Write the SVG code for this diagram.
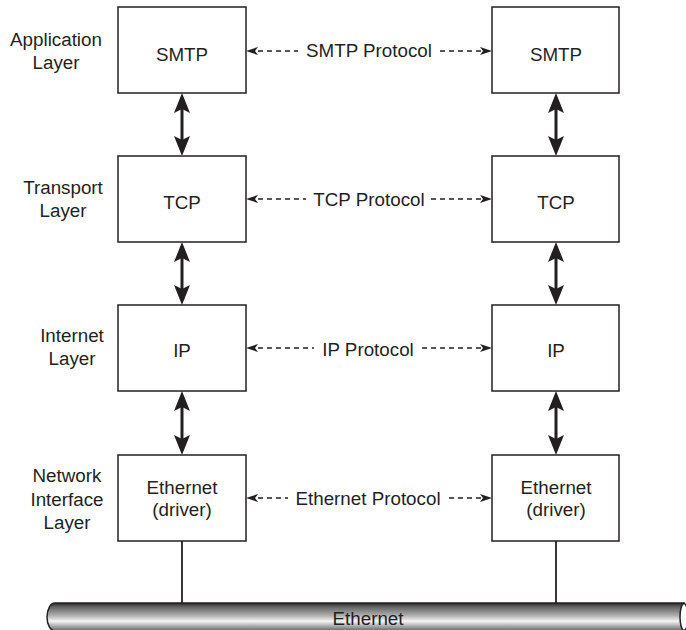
<svg xmlns="http://www.w3.org/2000/svg" width="686" height="630" viewBox="0 0 686 630">
<style>
text{font-family:"Liberation Sans",Arial,sans-serif;font-size:18.8px;fill:#231f20}
.c{text-anchor:middle}
.box{fill:#fff;stroke:#231f20;stroke-width:1.5}
.v{stroke:#231f20;stroke-width:3;fill:none}
.d{stroke:#231f20;stroke-width:1.4;stroke-dasharray:5 4;fill:none}
.tap{stroke:#231f20;stroke-width:1.8}
</style>
<defs>
<marker id="big" markerUnits="userSpaceOnUse" markerWidth="22" markerHeight="18" refX="6" refY="9" orient="auto-start-reverse" overflow="visible">
<path d="M0,1 L20,9 L0,17 L4,9 Z" fill="#231f20"/>
</marker>
<marker id="sm" markerUnits="userSpaceOnUse" markerWidth="13" markerHeight="10" refX="9" refY="5" orient="auto-start-reverse" overflow="visible">
<path d="M0,1 L12,5 L0,9 L3,5 Z" fill="#231f20"/>
</marker>
<linearGradient id="tube" x1="0" y1="0" x2="0" y2="1">
<stop offset="0" stop-color="#2a2a2a"/>
<stop offset="0.15" stop-color="#666"/>
<stop offset="0.45" stop-color="#b0b0b0"/>
<stop offset="0.65" stop-color="#f5f5f5"/>
<stop offset="0.85" stop-color="#a0a0a0"/>
<stop offset="1" stop-color="#666"/>
</linearGradient>
</defs>

<g id="layer-labels">
<text class="c" x="56" y="46">Application</text>
<text class="c" x="56" y="68.5">Layer</text>
<text class="c" x="63" y="194">Transport</text>
<text class="c" x="63" y="216.5">Layer</text>
<text class="c" x="72" y="342">Internet</text>
<text class="c" x="72" y="364.5">Layer</text>
<text class="c" x="67" y="482">Network</text>
<text class="c" x="67" y="506">Interface</text>
<text class="c" x="67" y="529">Layer</text>
</g>

<g id="ethernet-bus">
<path d="M55,603 H684 V631 H55 A8,14 0 0 1 55,603 Z" fill="url(#tube)" stroke="#231f20" stroke-width="1.5"/>
<ellipse cx="684" cy="617" rx="4" ry="13.5" fill="#fff" stroke="#231f20" stroke-width="1.5"/>
<text class="c" x="368" y="625">Ethernet</text>
</g>

<g id="connectors">
<line class="v" x1="182" y1="107" x2="182" y2="142" marker-start="url(#big)" marker-end="url(#big)"/>
<line class="v" x1="182" y1="256" x2="182" y2="291" marker-start="url(#big)" marker-end="url(#big)"/>
<line class="v" x1="182" y1="405" x2="182" y2="441" marker-start="url(#big)" marker-end="url(#big)"/>
<line class="v" x1="556" y1="107" x2="556" y2="142" marker-start="url(#big)" marker-end="url(#big)"/>
<line class="v" x1="556" y1="256" x2="556" y2="291" marker-start="url(#big)" marker-end="url(#big)"/>
<line class="v" x1="556" y1="405" x2="556" y2="441" marker-start="url(#big)" marker-end="url(#big)"/>
<line class="d" x1="249" y1="51" x2="298" y2="51" marker-start="url(#sm)"/>
<line class="d" x1="440" y1="51" x2="489" y2="51" marker-end="url(#sm)"/>
<line class="d" x1="249" y1="199" x2="306" y2="199" marker-start="url(#sm)"/>
<line class="d" x1="431" y1="199" x2="489" y2="199" marker-end="url(#sm)"/>
<line class="d" x1="249" y1="348" x2="314" y2="348" marker-start="url(#sm)"/>
<line class="d" x1="422" y1="348" x2="489" y2="348" marker-end="url(#sm)"/>
<line class="d" x1="249" y1="498" x2="288" y2="498" marker-start="url(#sm)"/>
<line class="d" x1="449" y1="498" x2="489" y2="498" marker-end="url(#sm)"/>
<line class="tap" x1="182" y1="541" x2="182" y2="603"/>
<line class="tap" x1="556" y1="541" x2="556" y2="603"/>
<text class="c" x="369" y="57">SMTP Protocol</text>
<text class="c" x="369" y="206">TCP Protocol</text>
<text class="c" x="368" y="356">IP Protocol</text>
<text class="c" x="368" y="505">Ethernet Protocol</text>
</g>

<g id="smtp-left"><rect class="box" x="118" y="7" width="128" height="86"/><text class="c" x="182" y="61">SMTP</text></g>
<g id="smtp-right"><rect class="box" x="492" y="7" width="127" height="86"/><text class="c" x="556" y="61">SMTP</text></g>
<g id="tcp-left"><rect class="box" x="118" y="156" width="128" height="86"/><text class="c" x="182" y="209">TCP</text></g>
<g id="tcp-right"><rect class="box" x="492" y="156" width="127" height="86"/><text class="c" x="556" y="209">TCP</text></g>
<g id="ip-left"><rect class="box" x="118" y="305" width="128" height="86"/><text class="c" x="182" y="357">IP</text></g>
<g id="ip-right"><rect class="box" x="492" y="305" width="127" height="86"/><text class="c" x="556" y="357">IP</text></g>
<g id="eth-left"><rect class="box" x="118" y="455" width="128" height="86"/><text class="c" x="182" y="494">Ethernet</text><text class="c" x="182" y="516">(driver)</text></g>
<g id="eth-right"><rect class="box" x="492" y="455" width="127" height="86"/><text class="c" x="556" y="494">Ethernet</text><text class="c" x="556" y="516">(driver)</text></g>
</svg>
